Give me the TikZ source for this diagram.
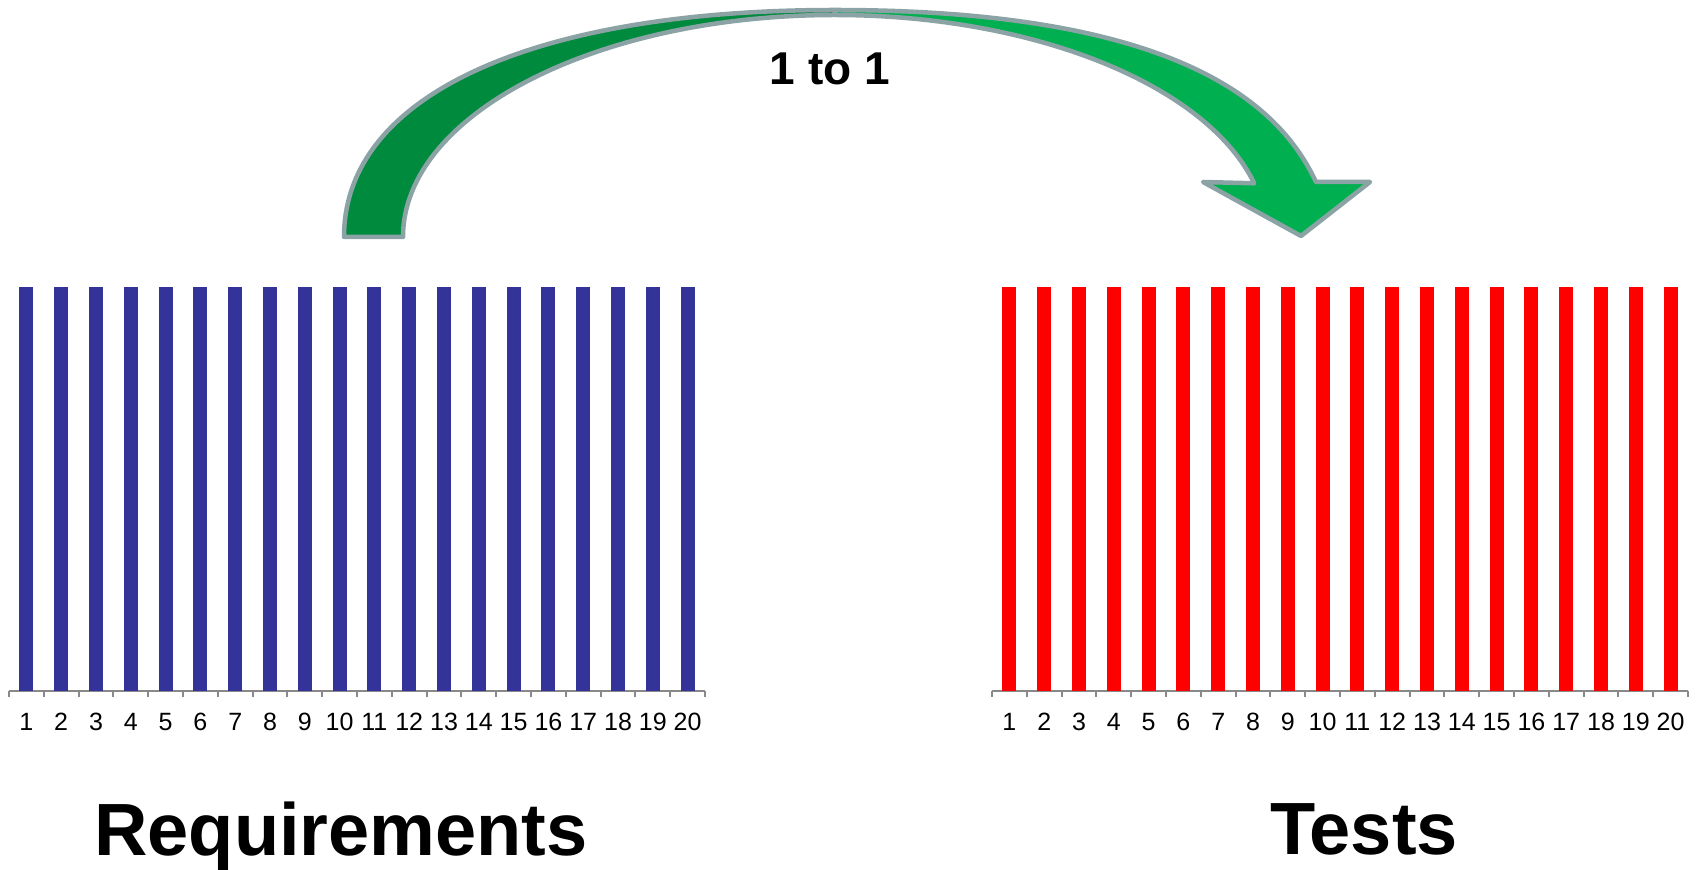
\documentclass[tikz,border=0pt]{standalone}
\usepackage{fontspec}
\setmainfont{Liberation Sans}
\usetikzlibrary{calc}
\definecolor{reqblue}{RGB}{51,51,153}
\definecolor{testred}{RGB}{255,0,0}
\definecolor{axisgray}{RGB}{137,137,137}
\definecolor{backgreen}{RGB}{0,138,62}
\definecolor{frontgreen}{RGB}{0,176,80}
\definecolor{rimgray}{RGB}{140,163,165}
\tikzset{
  axisline/.style={axisgray, line width=2.5},
  ticklabel/.style={anchor=base, inner sep=0, font=\fontsize{25}{30}\selectfont},
  bigtitle/.style={anchor=base, inner sep=0, font=\fontsize{74}{80}\selectfont\bfseries},
  bandpart/.style={draw=rimgray, line width=4.5, line join=round}
}
% one chart: #1 = left end of the axis, #2 = bar colour, #3 = node prefix
\newcommand{\idchart}[3]{%
  \draw[axisline] (#1,179) -- ++(696,0);
  \foreach \i in {0,...,20}
    \draw[axisgray, line width=2] (#1+34.8*\i,179) -- ++(0,-6);
  \foreach \i in {1,...,20} {
    \fill[#2] (#1+34.8*\i-24.4,179) rectangle ++(14,404);
    \node[ticklabel] (#3\i) at (#1+34.8*\i-17.4,139) {\i};
  }
}

\begin{document}
\begin{tikzpicture}[x=1pt,y=1pt]
\useasboundingbox (0,0) rectangle (1700,870);
\idchart{9}{reqblue}{req}
\idchart{992}{testred}{test}
% curved arrow, back half then front half with the head
\path[bandpart, fill=backgreen] (344,633) .. controls (344,774) and (531,860) .. (835,860)
  -- (835,855) arc[start angle=90, end angle=180, x radius=432, y radius=222] -- cycle;
\path[bandpart, fill=frontgreen] (835,860) .. controls (1180,860) and (1280,765) .. (1316,688)
  -- (1370,688) -- (1301,634) -- (1203,688) -- (1254.2,686.7)
  arc[start angle=14, end angle=90, x radius=432, y radius=222] -- cycle;
\node[anchor=base, inner sep=0, font=\fontsize{46}{52}\selectfont\bfseries] (ratio) at (830,785) {1 to 1};
\node[bigtitle] (reqs) at (341,14) {Requirements};
\node[bigtitle] (tests) at (1364,15) {Tests};
\end{tikzpicture}
\end{document}
